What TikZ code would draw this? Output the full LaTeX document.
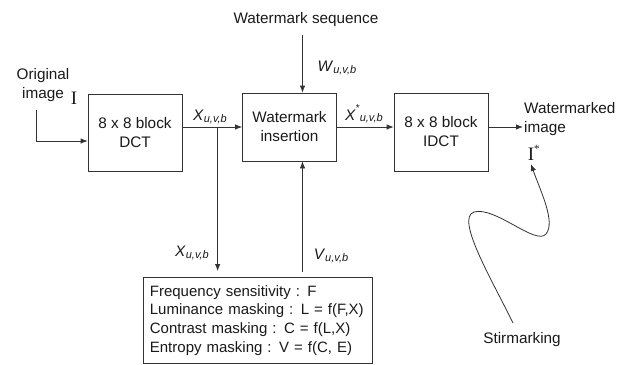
\documentclass[tikz,border=0pt]{standalone}
\usepackage{fontspec}
\setmainfont{Liberation Sans}
\newfontfamily\romanI{Liberation Serif}
\usetikzlibrary{arrows.meta}

\newcommand{\wvar}[2]{\textit{#1}\raisebox{-0.35ex}{\fontsize{11}{12}\selectfont\textit{#2}}}
\newcommand{\wvarst}[2]{\textit{#1}\raisebox{1.1ex}{\fontsize{10}{11}\selectfont *}\raisebox{-0.1ex}{\fontsize{11}{12}\selectfont\textit{#2}}}

\tikzset{
    blk/.style={draw=black!80,line width=0.8pt,minimum width=94pt,minimum height=77pt,align=center,inner sep=0pt},
    flow/.style={draw=black!80,line width=0.8pt,-{Latex[length=7pt,width=5.5pt]}},
    every node/.style={text=black!90,font=\fontsize{15.3}{19}\selectfont}
}

\begin{document}
\begin{tikzpicture}[x=1pt,y=-1pt]

    \useasboundingbox (0,0) rectangle (631,364);

    \node[blk] (dct) at (135,132.5) {8 x 8 block\\DCT};
    \node[blk,minimum height=68pt] (ins) at (289.5,127) {Watermark\\insertion};
    \node[blk,minimum height=78pt] (idct) at (441,132) {8 x 8 block\\IDCT};

    \node[draw=black!80,line width=0.8pt,anchor=north west,align=left,text width=216pt,
          minimum height=86pt,inner xsep=6.5pt,inner ysep=2pt,
          font=\fontsize{15}{18.7}\selectfont] (hvs) at (143,277)
        {Frequency sensitivity : F\\Luminance masking : L = f(F,X)\\Contrast masking : C = f(L,X)\\Entropy masking : V = f(C, E)};

    \node[align=center] (orig) at (43,85) {Original\\image};
    \node[font=\fontsize{19}{20}\selectfont\romanI] (iorig) at (74,98) {I};
    \node (wseq) at (306,20) {Watermark sequence};
    \node[align=left,anchor=west,inner sep=1pt] (wmk) at (523,119) {Watermarked\\image};
    \node[font=\fontsize{19}{20}\selectfont\romanI] (istar) at (531,153) {I\rlap{\raisebox{0.9ex}{\fontsize{11}{12}\selectfont *}}};
    \node (stir) at (522,340) {Stirmarking};

    \coordinate (src) at (36,110);
    \coordinate (win) at ([xshift=13pt]ins.north);
    \coordinate (vin) at ([xshift=13pt]ins.south);
    \coordinate (stirS) at (513,323);

    \draw[flow] (src) |- ([yshift=-8.5pt]dct.west);
    \path (dct.east |- ins.west) -- (ins.west) coordinate[pos=0.59] (br);
    \draw[flow] (dct.east |- ins.west) -- (ins.west);
    \draw[flow,shorten >=6pt] (br) -- (br |- hvs.north);
    \draw[flow,shorten <=5pt] (vin |- hvs.north) -- (vin);
    \draw[flow,shorten <=4pt] (win |- wseq.south) -- (win);
    \draw[flow] (ins.east) -- (ins.east -| idct.west);
    \draw[flow] (idct.east |- ins.east) -- (wmk.west |- ins.east);

    \draw[flow] (stirS) .. controls (492,280) and (455,218) .. (474,212)
        .. controls (495,206) and (536,246) .. (546,234)
        .. controls (556,222) and (540,190) .. (istar.south);

    \node (xlab) at (210,117) {\wvar{X}{u,v,b}};
    \node (wlab) at (337,68) {\wvar{W}{u,v,b}};
    \node (xlab2) at (192,253) {\wvar{X}{u,v,b}};
    \node (vlab) at (331,256) {\wvar{V}{u,v,b}};
    \node (xslab) at (364,114) {\wvarst{X}{u,v,b}};

\end{tikzpicture}
\end{document}
